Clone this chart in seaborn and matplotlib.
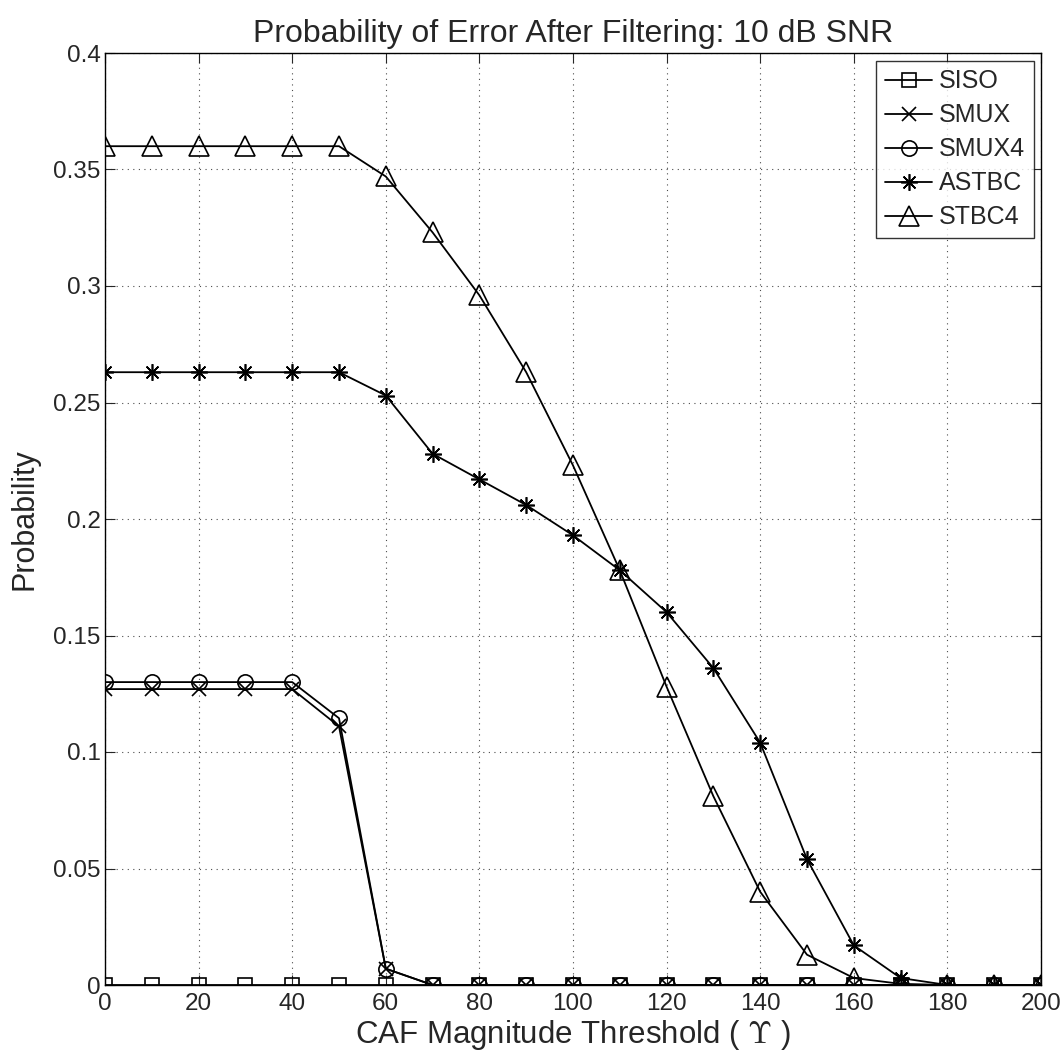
import numpy as np
import pandas as pd
import matplotlib
matplotlib.use("Agg")
import matplotlib.pyplot as plt
import seaborn as sns

thresholds = [0, 10, 20, 30, 40, 50, 60, 70, 80, 90, 100, 110, 120, 130, 140, 150, 160, 170, 180, 190, 200]
siso = [0.0] * 21
smux = [0.127, 0.127, 0.127, 0.127, 0.127, 0.111, 0.007, 0, 0, 0, 0, 0, 0, 0, 0, 0, 0, 0, 0, 0, 0]
smux4 = [0.130, 0.130, 0.130, 0.130, 0.130, 0.1145, 0.007, 0, 0, 0, 0, 0, 0, 0, 0, 0, 0, 0, 0, 0, 0]
astbc = [0.263, 0.263, 0.263, 0.263, 0.263, 0.263, 0.253, 0.228, 0.217, 0.206, 0.193, 0.178, 0.160,
         0.136, 0.104, 0.054, 0.017, 0.003, 0, 0, 0]
stbc4 = [0.360, 0.360, 0.360, 0.360, 0.360, 0.360, 0.347, 0.323, 0.296, 0.263, 0.223, 0.178, 0.128,
         0.081, 0.040, 0.013, 0.003, 0.0005, 0, 0, 0]
series_names = ["SISO", "SMUX", "SMUX4", "ASTBC", "STBC4"]
series_values = [siso, smux, smux4, astbc, stbc4]
markers = ["s", "x", "o", (8, 2, 0), "^"]
marker_sizes = [10, 10, 11, 12, 14]

sns.set_style("ticks")
plt.rcParams['font.family'] = ['Liberation Sans', 'DejaVu Sans']
plt.rcParams['mathtext.fontset'] = 'cm'

fig = plt.figure(figsize=(10.64, 10.53), dpi=100)
ax = fig.add_axes([105/1064, 1 - 985/1053, (1041-105)/1064, (985-53)/1053])

for name, vals, m, ms in zip(series_names, series_values, markers, marker_sizes):
    df = pd.DataFrame({"x": thresholds, "y": vals})
    sns.lineplot(data=df, x="x", y="y", ax=ax, color="black", linewidth=1.3,
                 marker=m, markersize=ms, markerfacecolor="none",
                 markeredgecolor="black", markeredgewidth=1.2, label=name)

ax.set_xlim(0, 200)
ax.set_ylim(0, 0.4)
ax.set_xticks(np.arange(0, 201, 20))
ax.set_yticks(np.arange(0, 0.401, 0.05))
ax.set_yticklabels(["0", "0.05", "0.1", "0.15", "0.2", "0.25", "0.3", "0.35", "0.4"])
ax.grid(True, linestyle=(0, (1, 4)), color="black", linewidth=0.8, alpha=0.7)
ax.tick_params(direction="in", top=True, right=True, labelsize=17.5, length=7, pad=3)
ax.tick_params(axis="x", pad=6)
for s in ax.spines.values():
    s.set_visible(True)
    s.set_linewidth(1.0)
    s.set_color("black")

ax.set_title("Probability of Error After Filtering: 10 dB SNR", fontsize=23, pad=8)
ax.set_xlabel(r"CAF Magnitude Threshold ( $\Upsilon$ )", fontsize=22.5, labelpad=2)
ax.set_ylabel("Probability", fontsize=22, labelpad=10)

leg = ax.legend(loc="upper right", fontsize=18, frameon=True, fancybox=False,
                edgecolor="black", handlelength=1.9, handletextpad=0.25,
                borderaxespad=0.3, labelspacing=0.4, borderpad=0.35)
leg.get_frame().set_linewidth(1.0)

fig.savefig("out.png", dpi=100)
